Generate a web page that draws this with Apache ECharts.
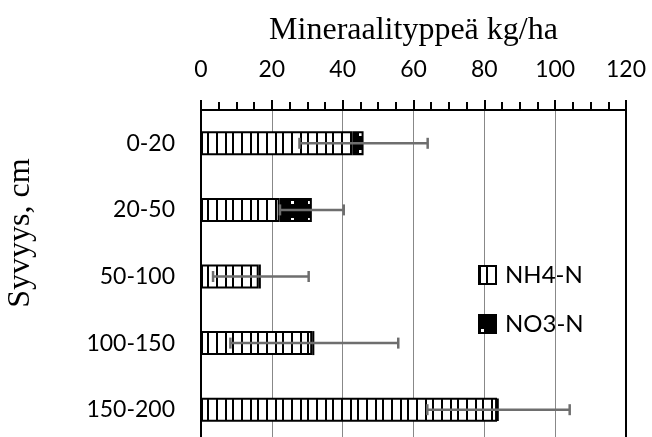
<!DOCTYPE html>
<html>
<head>
<meta charset="utf-8">
<script src="https://cdn.jsdelivr.net/npm/echarts@6/dist/echarts.min.js"></script>
<style>
  html, body { margin: 0; padding: 0; background: #fff; }
  #chart { width: 652px; height: 437px; }
</style>
</head>
<body>
<div id="chart"></div>
<script>
// Soil mineral nitrogen by depth layer (kg/ha)
const depths = ['0-20', '20-50', '50-100', '100-150', '150-200'];
const nh4 = [42.8, 22.2, 16.3, 31.4, 83.6];
const no3 = [3.1, 9.1, 0.6, 0.6, 0.4];
const errs = [18.1, 9.0, 13.5, 23.7, 20.1];
const xTicks = [0, 20, 40, 60, 80, 100, 120];

// Vertical-stripe fill for NH4-N
function stripePattern() {
  const c = document.createElement('canvas');
  c.width = 25; c.height = 4;
  const g = c.getContext('2d');
  g.fillStyle = '#fff'; g.fillRect(0, 0, 25, 4);
  g.fillStyle = '#000';
  [0, 7, 16].forEach(x => g.fillRect(x, 0, 2, 4));
  return { image: c, repeat: 'repeat' };
}
// Black fill with small white dots for NO3-N
function dotPattern() {
  const c = document.createElement('canvas');
  c.width = 17; c.height = 17;
  const g = c.getContext('2d');
  g.fillStyle = '#000'; g.fillRect(0, 0, 17, 17);
  g.fillStyle = '#fff'; g.fillRect(2, 14, 3, 3);
  return { image: c, repeat: 'repeat' };
}

const totals = nh4.map((v, i) => v + no3[i]);
const errData = depths.map((d, i) => [i, totals[i] - errs[i], totals[i] + errs[i]]);

const chart = echarts.init(document.getElementById('chart'), null, { renderer: 'canvas' });
const labelFont = 'Lato, "Open Sans", sans-serif';
const serifFont = '"Liberation Serif", "DejaVu Serif", serif';

chart.setOption({
  animation: false,
  backgroundColor: '#fff',
  grid: { left: 201, top: 110, width: 425, height: 333, containLabel: false, outerBoundsMode: 'none' },
  xAxis: {
    type: 'value', position: 'top',
    min: xTicks[0], max: xTicks[xTicks.length - 1], interval: 20,
    name: 'Mineraalityppeä kg/ha', nameLocation: 'middle', nameGap: 63,
    nameTextStyle: { fontFamily: serifFont, fontSize: 32, color: '#000' },
    axisLine: { show: true, lineStyle: { color: '#000', width: 2 } },
    axisTick: { show: true, inside: false, length: 10, lineStyle: { color: '#000', width: 2 } },
    minorTick: { show: true, splitNumber: 4, length: 8, lineStyle: { color: '#000', width: 2 } },
    axisLabel: { margin: 29, fontFamily: labelFont, fontSize: 23, color: '#000' },
    splitLine: { show: true, lineStyle: { color: '#888', width: 1 } }
  },
  yAxis: [{
    type: 'category', inverse: true, data: depths,
    axisLine: { show: true, lineStyle: { color: '#000', width: 2 } },
    axisTick: { show: false },
    axisLabel: { margin: 26, fontFamily: labelFont, fontSize: 23, color: '#000' },
    splitLine: { show: false }
  }, {
    type: 'category', position: 'right', inverse: true, data: depths,
    axisLine: { show: true, lineStyle: { color: '#000', width: 2 } },
    axisTick: { show: false }, axisLabel: { show: false }, splitLine: { show: false }
  }],
  legend: {
    orient: 'vertical', left: 473, top: 258,
    itemWidth: 17, itemHeight: 18, itemGap: 25,
    icon: 'rect',
    data: ['NH4-N', 'NO3-N'],
    textStyle: { fontFamily: labelFont, fontSize: 24, lineHeight: 24, color: '#000', padding: [0, 0, 0, 4] }
  },
  graphic: [{
    type: 'text', x: 21, y: 233, rotation: Math.PI / 2,
    style: {
      text: 'Syvyys, cm', fill: '#000',
      font: '32px "Liberation Serif", "DejaVu Serif", serif',
      align: 'center', verticalAlign: 'middle'
    }
  }],
  series: [{
    name: 'NH4-N', type: 'bar', stack: 'n', barWidth: 24,
    data: nh4,
    itemStyle: { color: stripePattern(), borderColor: '#000', borderWidth: 2 }
  }, {
    name: 'NO3-N', type: 'bar', stack: 'n', barWidth: 24,
    data: no3,
    itemStyle: { color: dotPattern(), borderColor: '#000', borderWidth: 2 }
  }, {
    type: 'custom', name: 'sd', z: 10,
    encode: { x: [1, 2], y: 0 },
    data: errData,
    renderItem: function (params, api) {
      const cat = api.value(0);
      const lo = api.coord([api.value(1), cat]);
      const hi = api.coord([api.value(2), cat]);
      const h = 5.5;
      const st = { stroke: '#6e6e6e', lineWidth: 2.5 };
      return {
        type: 'group',
        children: [
          { type: 'line', shape: { x1: lo[0], y1: lo[1], x2: hi[0], y2: hi[1] }, style: st },
          { type: 'line', shape: { x1: lo[0], y1: lo[1] - h, x2: lo[0], y2: lo[1] + h }, style: st },
          { type: 'line', shape: { x1: hi[0], y1: hi[1] - h, x2: hi[0], y2: hi[1] + h }, style: st }
        ]
      };
    }
  }]
});
</script>
</body>
</html>
